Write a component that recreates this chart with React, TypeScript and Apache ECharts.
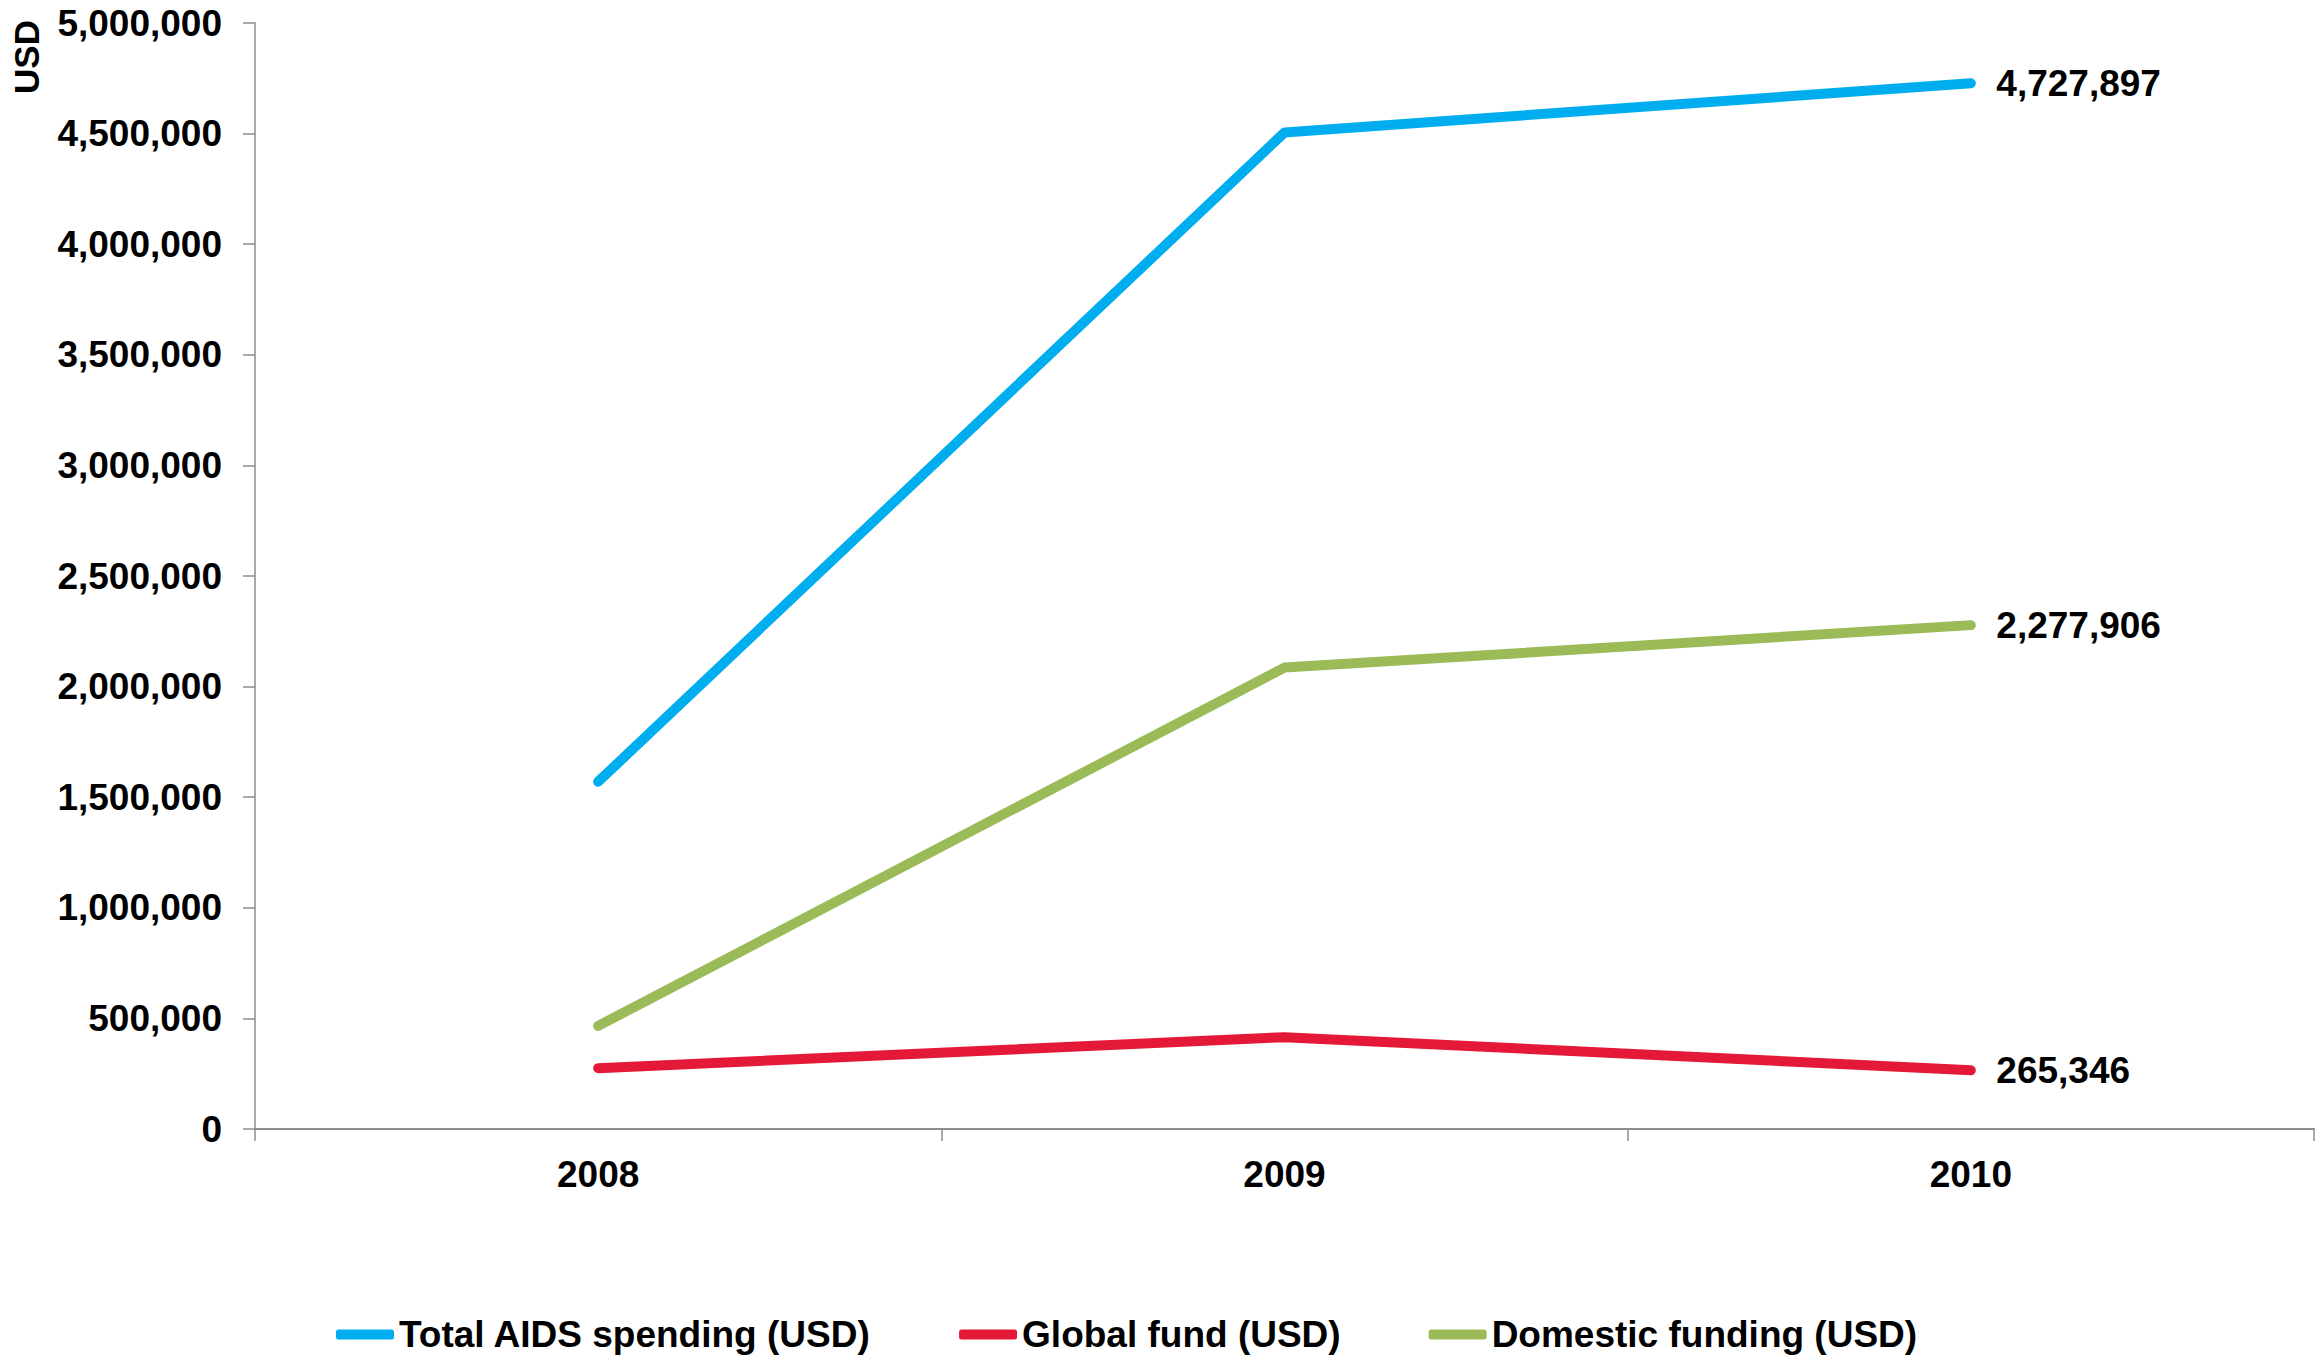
import React, { useEffect, useRef } from "react";
import * as echarts from "echarts";

const years = ["2008", "2009", "2010"];
const totalSpending = [1570000, 4505000, 4727897];
const globalFund = [275000, 415000, 265346];
const domesticFunding = [466000, 2086000, 2277906];
const seriesNames = ["Total AIDS spending (USD)", "Global fund (USD)", "Domestic funding (USD)"];
const seriesColors = ["#00AEEF", "#E31937", "#9BBB59"];

const FONT = "'Liberation Sans', Arial, Helvetica, sans-serif";

function fmt(v: number): string {
  return v.toLocaleString("en-US");
}

function makeData(values: number[]) {
  return values.map((v, i) =>
    i === values.length - 1
      ? { value: v, label: { show: true } }
      : { value: v }
  );
}

export default function App() {
  const ref = useRef<HTMLDivElement>(null);
  useEffect(() => {
    document.body.style.margin = "0";
    const chart = echarts.init(ref.current!, null, { renderer: "svg" });
    const all = [totalSpending, globalFund, domesticFunding];
    chart.setOption({
      animation: false,
      textStyle: { fontFamily: FONT },
      grid: { left: 255, right: 3, top: 23, bottom: 227, containLabel: false },
      legend: {
        left: 331,
        top: 1311,
        itemWidth: 58,
        itemHeight: 10,
        itemGap: 88,
        icon: "roundRect",
        textStyle: { fontFamily: FONT, fontWeight: "bold", fontSize: 37, color: "#000" },
        data: seriesNames,
      },
      graphic: [
        {
          type: "text",
          x: 26,
          y: 57,
          rotation: Math.PI / 2,
          style: {
            text: "USD",
            font: `bold 35px ${FONT}`,
            fill: "#000",
            textAlign: "center",
            textVerticalAlign: "middle",
          },
        },
      ],
      xAxis: {
        type: "category",
        data: years,
        boundaryGap: true,
        axisLine: { show: true, lineStyle: { color: "#8c8c8c", width: 2 } },
        axisTick: { show: true, length: 12, lineStyle: { color: "#8c8c8c", width: 1.5 } },
        axisLabel: { margin: 27, fontFamily: FONT, fontWeight: "bold", fontSize: 37, color: "#000" },
        splitLine: { show: false },
      },
      yAxis: {
        type: "value",
        min: 0,
        max: 5000000,
        interval: 500000,
        axisLine: { show: true, lineStyle: { color: "#8c8c8c", width: 1.5 } },
        axisTick: { show: true, length: 12, lineStyle: { color: "#8c8c8c", width: 1.5 } },
        axisLabel: {
          margin: 33,
          fontFamily: FONT,
          fontWeight: "bold",
          fontSize: 37,
          color: "#000",
          formatter: (v: number) => fmt(v),
        },
        splitLine: { show: false },
      },
      series: all.map((vals, i) => ({
        name: seriesNames[i],
        type: "line",
        data: makeData(vals),
        symbol: "circle",
        symbolSize: 1,
        showSymbol: true,
        color: seriesColors[i],
        itemStyle: { color: seriesColors[i] },
        lineStyle: { width: 10, color: seriesColors[i], cap: "round", join: "round" },
        label: {
          show: false,
          position: "right",
          distance: 25,
          fontFamily: FONT,
          fontWeight: "bold",
          fontSize: 37,
          color: "#000",
          formatter: (p: any) => fmt(p.value),
        },
        emphasis: { disabled: true },
      })),
    });
    return () => chart.dispose();
  }, []);
  return <div ref={ref} style={{ width: 2317, height: 1356 }} />;
}
